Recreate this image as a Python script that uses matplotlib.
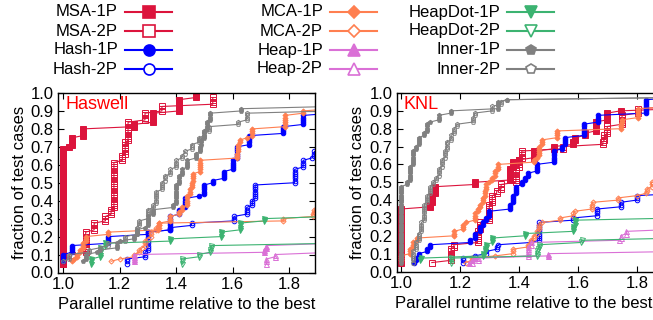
import numpy as np
import matplotlib
matplotlib.use('Agg')
import matplotlib.pyplot as plt
from matplotlib.lines import Line2D
from matplotlib.ticker import FormatStrFormatter

plt.rcParams['font.family'] = ['Liberation Sans', 'DejaVu Sans']
plt.rcParams['font.size'] = 12

# one marker per test case, CDF steps of STEP
STEP = 0.0125

names = ['MSA-1P', 'MSA-2P', 'Hash-1P', 'Hash-2P', 'MCA-1P', 'MCA-2P',
         'Heap-1P', 'Heap-2P', 'HeapDot-1P', 'HeapDot-2P', 'Inner-1P', 'Inner-2P']

# ---------------- Haswell ----------------
hsw_msa1_x = [1.0, 1.0, 1.02, 1.03, 1.03, 1.07, 1.07, 1.25, 1.25, 1.32, 1.32, 1.41, 1.41, 1.47, 1.47]
hsw_msa1_y = [0.05, 0.69, 0.70, 0.73, 0.75, 0.78, 0.80, 0.82, 0.83, 0.86, 0.89, 0.93, 0.96, 0.98, 1.0]
hsw_msa2_x = [1.0, 1.0, 1.03, 1.08, 1.08, 1.11, 1.15, 1.17, 1.18, 1.21, 1.22, 1.23, 1.29, 1.29, 1.35, 1.53, 1.53]
hsw_msa2_y = [0.05, 0.08, 0.10, 0.14, 0.23, 0.27, 0.31, 0.35, 0.61, 0.65, 0.72, 0.84, 0.86, 0.89, 0.92, 0.96, 0.98]
hsw_hash1_x = [1.0, 1.0, 1.03, 1.16, 1.16, 1.30, 1.38, 1.38, 1.41, 1.43, 1.43, 1.48, 1.50, 1.50, 1.53, 1.57, 1.57,
               1.60, 1.60, 1.615, 1.615, 1.66, 1.66, 1.78, 1.78, 1.85, 1.85, 1.95]
hsw_hash1_y = [0.06, 0.10, 0.155, 0.18, 0.20, 0.23, 0.25, 0.31, 0.35, 0.39, 0.41, 0.43, 0.46, 0.49, 0.51, 0.53, 0.56,
               0.58, 0.63, 0.65, 0.70, 0.73, 0.76, 0.78, 0.81, 0.83, 0.88, 0.90]
hsw_hash2_x = [1.225, 1.225, 1.29, 1.30, 1.30, 1.38, 1.38, 1.455, 1.455, 1.605, 1.65, 1.65, 1.67, 1.68, 1.68,
               1.82, 1.82, 1.85, 1.85, 1.88, 1.89]
hsw_hash2_y = [0.05, 0.075, 0.11, 0.16, 0.22, 0.24, 0.25, 0.265, 0.28, 0.31, 0.33, 0.36, 0.40, 0.45, 0.49,
               0.51, 0.57, 0.60, 0.62, 0.64, 0.68]
hsw_mca1_x = [1.03, 1.04, 1.05, 1.06, 1.07, 1.08, 1.16, 1.335, 1.34, 1.38, 1.41, 1.42, 1.44, 1.44, 1.45, 1.455,
              1.46, 1.46, 1.485, 1.615, 1.615, 1.62, 1.625, 1.65, 1.67, 1.785, 1.785, 1.85, 1.95]
hsw_mca1_y = [0.06, 0.08, 0.10, 0.13, 0.16, 0.20, 0.22, 0.24, 0.28, 0.31, 0.34, 0.36, 0.39, 0.42, 0.46, 0.50,
              0.53, 0.55, 0.62, 0.64, 0.66, 0.71, 0.74, 0.755, 0.80, 0.86, 0.88, 0.90, 0.915]
hsw_mca2_x = [1.17, 1.20, 1.25, 1.27, 1.28, 1.29, 1.30, 1.31, 1.33, 1.34, 1.78, 1.885, 1.89]
hsw_mca2_y = [0.06, 0.08, 0.10, 0.12, 0.14, 0.17, 0.19, 0.22, 0.25, 0.27, 0.30, 0.32, 0.355]
hsw_heap1_x = [1.25, 1.25, 1.71, 1.72, 1.95]
hsw_heap1_y = [0.06, 0.10, 0.12, 0.15, 0.175]
hsw_heap2_x = [1.72, 1.72, 1.75, 1.95]
hsw_heap2_y = [0.05, 0.08, 0.105, 0.12]
hsw_hd1_x = [1.10, 1.10, 1.13, 1.13, 1.15, 1.38, 1.56, 1.625, 1.625, 1.71, 1.95]
hsw_hd1_y = [0.05, 0.08, 0.12, 0.14, 0.16, 0.19, 0.22, 0.25, 0.27, 0.30, 0.31]
hsw_hd2_x = [1.42, 1.42, 1.48, 1.52, 1.525, 1.95]
hsw_hd2_y = [0.055, 0.08, 0.095, 0.12, 0.15, 0.16]
hsw_inner1_x = [1.07, 1.08, 1.12, 1.13, 1.19, 1.20, 1.25, 1.26, 1.29, 1.30, 1.32, 1.39, 1.40, 1.40, 1.41, 1.42,
                1.44, 1.44, 1.47, 1.485, 1.49, 1.50, 1.50, 1.51, 1.52, 1.63, 1.95]
hsw_inner1_y = [0.06, 0.095, 0.11, 0.13, 0.16, 0.18, 0.20, 0.235, 0.25, 0.31, 0.35, 0.375, 0.43, 0.49, 0.54, 0.57,
                0.60, 0.625, 0.66, 0.70, 0.74, 0.76, 0.79, 0.84, 0.89, 0.91, 0.925]
hsw_inner2_x = [1.0, 1.02, 1.02, 1.09, 1.13, 1.16, 1.22, 1.26, 1.26, 1.27, 1.30, 1.32, 1.33, 1.33, 1.35, 1.35,
                1.36, 1.38, 1.40, 1.40, 1.42, 1.43, 1.455, 1.48, 1.48, 1.50, 1.515, 1.62, 1.65, 1.65, 1.95]
hsw_inner2_y = [0.06, 0.08, 0.10, 0.12, 0.135, 0.16, 0.195, 0.23, 0.25, 0.29, 0.35, 0.38, 0.41, 0.45, 0.47, 0.50,
                0.54, 0.58, 0.60, 0.63, 0.65, 0.68, 0.71, 0.72, 0.75, 0.78, 0.81, 0.84, 0.87, 0.89, 0.915]

# ---------------- KNL ----------------
knl_msa1_x = [1.0, 1.0, 1.10, 1.105, 1.115, 1.12, 1.25, 1.37, 1.37, 1.38, 1.40, 1.45, 1.45, 1.52, 1.585, 1.59,
              1.625, 1.66, 1.66, 1.70, 1.70, 1.745, 1.95]
knl_msa1_y = [0.05, 0.35, 0.37, 0.42, 0.47, 0.48, 0.50, 0.52, 0.58, 0.61, 0.63, 0.66, 0.68, 0.70, 0.72, 0.745,
              0.77, 0.80, 0.835, 0.86, 0.885, 0.90, 0.935]
knl_msa2_x = [1.105, 1.17, 1.17, 1.18, 1.26, 1.26, 1.27, 1.30, 1.30, 1.31, 1.325, 1.34, 1.39, 1.39, 1.40, 1.41,
              1.55, 1.685, 1.69, 1.70, 1.75, 1.75, 1.805, 1.95]
knl_msa2_y = [0.05, 0.10, 0.12, 0.145, 0.185, 0.23, 0.27, 0.30, 0.38, 0.42, 0.45, 0.49, 0.53, 0.57, 0.62, 0.67,
              0.705, 0.72, 0.76, 0.81, 0.85, 0.875, 0.91, 0.925]
knl_hash1_x = [1.045, 1.05, 1.06, 1.09, 1.10, 1.235, 1.25, 1.25, 1.27, 1.28, 1.29, 1.30, 1.37, 1.38, 1.39, 1.41,
               1.42, 1.43, 1.46, 1.52, 1.52, 1.545, 1.557, 1.62, 1.62, 1.67, 1.67, 1.83, 1.83, 1.95]
knl_hash1_y = [0.05, 0.07, 0.10, 0.13, 0.155, 0.17, 0.19, 0.21, 0.25, 0.27, 0.30, 0.34, 0.37, 0.42, 0.47, 0.50,
               0.53, 0.555, 0.60, 0.62, 0.67, 0.705, 0.75, 0.81, 0.83, 0.85, 0.875, 0.93, 0.96, 0.975]
knl_hash2_x = [1.21, 1.21, 1.25, 1.29, 1.325, 1.33, 1.44, 1.47, 1.47, 1.47, 1.585, 1.665, 1.665, 1.745, 1.745,
               1.80, 1.95]
knl_hash2_y = [0.05, 0.07, 0.09, 0.11, 0.135, 0.155, 0.165, 0.19, 0.23, 0.275, 0.305, 0.325, 0.35, 0.37, 0.385,
               0.425, 0.445]
knl_mca1_x = [1.0, 1.0, 1.03, 1.04, 1.055, 1.18, 1.21, 1.22, 1.25, 1.26, 1.27, 1.28, 1.285, 1.29, 1.30, 1.31,
              1.32, 1.33, 1.45, 1.46, 1.47, 1.48, 1.53, 1.745, 1.75, 1.805, 1.95]
knl_mca1_y = [0.06, 0.09, 0.13, 0.16, 0.19, 0.22, 0.26, 0.28, 0.32, 0.35, 0.38, 0.41, 0.45, 0.49, 0.50, 0.52,
              0.56, 0.60, 0.62, 0.64, 0.70, 0.74, 0.79, 0.83, 0.855, 0.91, 0.935]
knl_mca2_x = [1.22, 1.24, 1.32, 1.38, 1.43, 1.44, 1.45, 1.46, 1.47, 1.48, 1.54, 1.585, 1.59, 1.647, 1.65, 1.737,
              1.80, 1.83, 1.835, 1.85, 1.95]
knl_mca2_y = [0.05, 0.07, 0.09, 0.12, 0.15, 0.17, 0.20, 0.22, 0.26, 0.28, 0.30, 0.325, 0.34, 0.37, 0.385, 0.415,
              0.425, 0.44, 0.465, 0.50, 0.52]
knl_heap1_x = [1.23, 1.24, 1.25, 1.50, 1.95]
knl_heap1_y = [0.05, 0.065, 0.075, 0.10, 0.11]
knl_heap2_x = [1.24, 1.26, 1.43, 1.43, 1.44, 1.74, 1.745, 1.765, 1.95]
knl_heap2_y = [0.05, 0.07, 0.11, 0.135, 0.16, 0.18, 0.20, 0.225, 0.235]
knl_hd1_x = [1.065, 1.07, 1.28, 1.285, 1.29, 1.31, 1.42, 1.585, 1.59, 1.95]
knl_hd1_y = [0.06, 0.075, 0.10, 0.12, 0.145, 0.185, 0.21, 0.25, 0.29, 0.32]
knl_hd2_x = [1.17, 1.17, 1.46, 1.46, 1.465, 1.47, 1.61, 1.615, 1.95]
knl_hd2_y = [0.05, 0.07, 0.09, 0.11, 0.13, 0.145, 0.165, 0.18, 0.21]
knl_inner1_x = [1.0, 1.0, 1.01, 1.02, 1.03, 1.03, 1.04, 1.04, 1.05, 1.06, 1.08, 1.09, 1.09, 1.10, 1.13, 1.17,
                1.33, 1.33, 1.36, 1.95]
knl_inner1_y = [0.05, 0.47, 0.48, 0.50, 0.55, 0.59, 0.63, 0.67, 0.70, 0.745, 0.78, 0.80, 0.82, 0.84, 0.875, 0.90,
                0.94, 0.95, 0.96, 0.97]
knl_inner2_x = [1.04, 1.04, 1.05, 1.06, 1.07, 1.08, 1.08, 1.09, 1.10, 1.11, 1.12, 1.13, 1.14, 1.15, 1.155, 1.17,
                1.18, 1.19, 1.245, 1.25, 1.31, 1.31, 1.34, 1.36, 1.95]
knl_inner2_y = [0.05, 0.11, 0.165, 0.21, 0.27, 0.32, 0.375, 0.43, 0.47, 0.50, 0.53, 0.57, 0.62, 0.67, 0.72, 0.76,
                0.80, 0.83, 0.86, 0.885, 0.90, 0.92, 0.95, 0.96, 0.975]

haswell = [(hsw_msa1_x, hsw_msa1_y), (hsw_msa2_x, hsw_msa2_y), (hsw_hash1_x, hsw_hash1_y),
           (hsw_hash2_x, hsw_hash2_y), (hsw_mca1_x, hsw_mca1_y), (hsw_mca2_x, hsw_mca2_y),
           (hsw_heap1_x, hsw_heap1_y), (hsw_heap2_x, hsw_heap2_y), (hsw_hd1_x, hsw_hd1_y),
           (hsw_hd2_x, hsw_hd2_y), (hsw_inner1_x, hsw_inner1_y), (hsw_inner2_x, hsw_inner2_y)]
knl = [(knl_msa1_x, knl_msa1_y), (knl_msa2_x, knl_msa2_y), (knl_hash1_x, knl_hash1_y),
       (knl_hash2_x, knl_hash2_y), (knl_mca1_x, knl_mca1_y), (knl_mca2_x, knl_mca2_y),
       (knl_heap1_x, knl_heap1_y), (knl_heap2_x, knl_heap2_y), (knl_hd1_x, knl_hd1_y),
       (knl_hd2_x, knl_hd2_y), (knl_inner1_x, knl_inner1_y), (knl_inner2_x, knl_inner2_y)]

# colour, marker, filled
styles = [('#DC143C', 's', True), ('#DC143C', 's', False),
          ('#0000FF', 'o', True), ('#0000FF', 'o', False),
          ('#FF7F50', 'D', True), ('#FF7F50', 'D', False),
          ('#DA70D6', '^', True), ('#DA70D6', '^', False),
          ('#3CB371', 'v', True), ('#3CB371', 'v', False),
          ('#808080', 'p', True), ('#808080', 'p', False)]
msize = {'s': 3.8, 'o': 3.3, 'D': 2.6, '^': 3.6, 'v': 3.6, 'p': 3.2}


def ecdf(xs, ys):
    # cumulative fraction -> one point per test case
    k = np.maximum.accumulate(np.round(np.asarray(ys) / STEP).astype(int))
    counts = np.diff(k, prepend=k[0] - 1)
    cx = np.repeat(xs, counts)
    cy = np.arange(k[0], k[-1] + 1) * STEP
    return cx, cy


def draw_panel(ax, data, xlim, tag, tag_x, label_x):
    for (xs, ys), (col, mk, filled) in zip(data, styles):
        cx, cy = ecdf(xs, ys)
        ax.plot(cx, cy, color=col, lw=0.8, marker=mk, ms=msize[mk],
                mfc=col if filled else 'none', mec=col, mew=0.7)
    ax.set_xlim(*xlim)
    ax.set_ylim(0, 1.0)
    ax.set_xticks([1.0, 1.2, 1.4, 1.6, 1.8])
    ax.set_yticks(np.arange(0, 1.01, 0.1))
    ax.xaxis.set_major_formatter(FormatStrFormatter('%.1f'))
    ax.yaxis.set_major_formatter(FormatStrFormatter('%.1f'))
    ax.tick_params(direction='in', top=True, right=True, length=4, width=0.8, pad=3)
    for s in ax.spines.values():
        s.set_linewidth(1.0)
    ax.set_xlabel('Parallel runtime relative to the best')
    ax.xaxis.set_label_coords(label_x, -0.135)
    ax.xaxis.label.set_va('top')
    ax.set_ylabel('fraction of test cases', labelpad=3)
    ax.text(tag_x, 0.935, tag, transform=ax.transAxes, color='#FF0000', fontsize=13, va='center')


W, H = 653, 320
fig = plt.figure(figsize=(W / 100, H / 100), dpi=100)

ax1 = fig.add_axes([58 / W, 47.5 / H, 257 / W, 179.5 / H])
draw_panel(ax1, haswell, (0.982, 1.892), 'Haswell', 0.03, 0.5)

ax2 = fig.add_axes([396.7 / W, 48.5 / H, 269.6 / W, 178.5 / H])
draw_panel(ax2, knl, (0.986, 1.9), 'KNL', 0.027, 0.47)

# legend, gnuplot style: label then sample, 3 columns x 4 rows
col_text_x = [118, 323, 500]
row_y = [12, 31, 50, 69]
for i, (name, (col, mk, filled)) in enumerate(zip(names, styles)):
    c, r = i // 4, i % 4
    tx = col_text_x[c]
    yy = 1 - row_y[r] / H
    fig.text(tx / W, yy, name, ha='right', va='center', fontsize=12)
    fig.add_artist(Line2D([(tx + 7) / W, (tx + 54) / W], [yy, yy], transform=fig.transFigure,
                          color=col, lw=1.5))
    fig.add_artist(Line2D([(tx + 31) / W], [yy], transform=fig.transFigure, color=col,
                          marker=mk, ms=msize[mk] * 2.4, mfc=col if filled else 'white', mec=col, mew=1.2))

fig.savefig('out.png', dpi=100)
